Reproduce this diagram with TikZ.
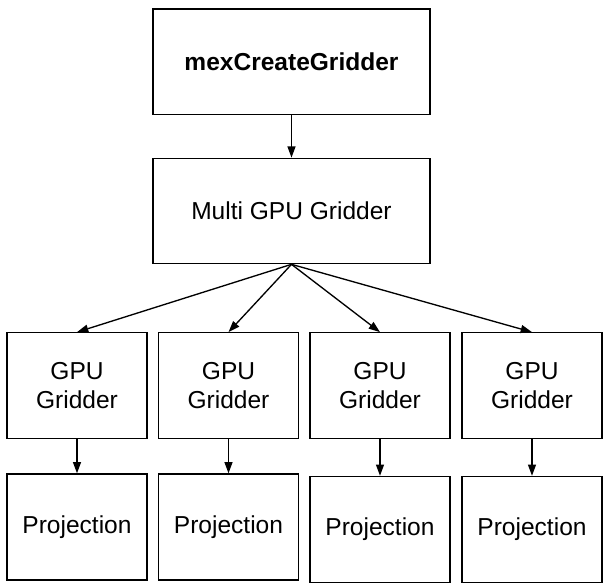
\documentclass[tikz,border=0pt]{standalone}
\usepackage{fontspec}
\setmainfont{Liberation Sans}
\usetikzlibrary{positioning,arrows.meta}

\begin{document}
\begin{tikzpicture}
	[
		x=0.75pt, y=-0.75pt,
		box/.style={draw, line width=1pt, align=center, inner sep=0pt, font=\fontsize{18.4}{21.5}\selectfont},
		wide/.style={box, minimum width=207.75pt, minimum height=79pt},
		small/.style={box, minimum width=105pt, minimum height=79.5pt},
		link/.style={line width=1pt, -{Triangle[length=8.5pt,width=6pt]}}
	]
	\useasboundingbox (0,0) rectangle (611,586);

	\node(create) [wide, font=\fontsize{18.4}{21.5}\selectfont\bfseries] at (291.5,61.5) {mexCreateGridder};
	\node(multi) [wide] at (291.5,211) {Multi GPU Gridder};

%	one column per gpu: gridder above, projection below
	\foreach \x/\cx/\py in {1/77/527,2/228.5/527,3/380/529.5,4/532/529.5}
	{
		\node(gpu\x) [small] at (\cx,385.8) {GPU\\Gridder};
		\node(proj\x) [small] at (\cx,\py) {Projection};
	}

	\draw[link] (create) -- (multi);
	\foreach \x in {1,...,4} {\draw[link] (multi.south) -- (gpu\x.north);};
	\foreach \x in {1,...,4} {\draw[link] (gpu\x) -- (proj\x);};
\end{tikzpicture}
\end{document}
